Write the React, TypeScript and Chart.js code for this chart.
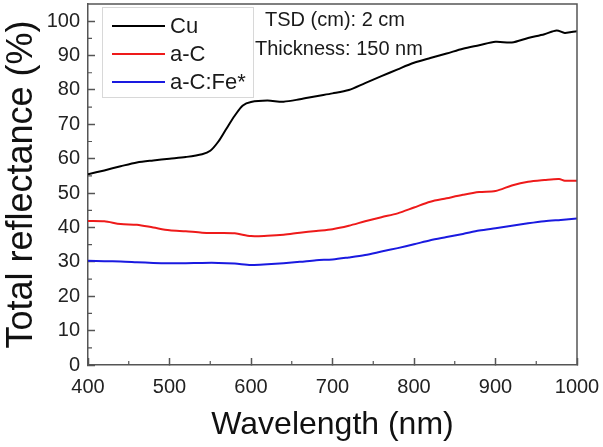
import React, { useEffect, useRef } from "react";
import { Chart, registerables } from "chart.js";

Chart.register(...registerables);

const cuWavelength = [400, 420, 440, 460, 480, 500, 520, 540, 550, 560, 570, 580, 590, 600, 620, 640, 660, 680, 700, 720, 740, 760, 780, 800, 820, 840, 860, 880, 900, 920, 940, 960, 975, 985, 1000];
const cuValues = [55.5, 56.6, 57.8, 58.9, 59.5, 60.0, 60.5, 61.3, 62.3, 65.0, 68.8, 72.5, 75.5, 76.5, 76.9, 76.6, 77.3, 78.2, 79.0, 80.0, 82.0, 84.0, 86.0, 87.9, 89.3, 90.6, 92.0, 93.0, 94.0, 93.8, 95.1, 96.2, 97.3, 96.6, 97.1];

const acWavelength = [400, 420, 440, 460, 480, 500, 520, 540, 560, 580, 600, 620, 640, 660, 680, 700, 720, 740, 760, 780, 800, 820, 840, 860, 880, 900, 920, 940, 960, 978, 985, 1000];
const acValues = [41.9, 41.8, 41.0, 40.8, 40.0, 39.2, 38.9, 38.5, 38.4, 38.3, 37.5, 37.6, 37.9, 38.5, 39.0, 39.5, 40.5, 41.8, 43.0, 44.1, 45.8, 47.5, 48.5, 49.5, 50.3, 50.6, 52.2, 53.3, 53.8, 54.1, 53.6, 53.6];

const acFeWavelength = [400, 420, 440, 460, 480, 500, 520, 540, 560, 580, 600, 620, 640, 660, 680, 700, 720, 740, 760, 780, 800, 820, 840, 860, 880, 900, 920, 940, 960, 980, 1000];
const acFeValues = [30.3, 30.2, 30.1, 29.9, 29.7, 29.6, 29.6, 29.7, 29.7, 29.5, 29.1, 29.3, 29.6, 30.0, 30.5, 30.7, 31.3, 32.0, 33.0, 34.0, 35.1, 36.3, 37.2, 38.1, 39.1, 39.8, 40.5, 41.2, 41.8, 42.2, 42.6];

const seriesLabels = ["Cu", "a-C", "a-C:Fe*"];
const seriesColors = ["#000000", "#ee1a1a", "#1a1ae0"];
const annotationLines = ["TSD (cm): 2 cm", "Thickness: 150 nm"];

const FONT = "'Liberation Sans', Arial, sans-serif";
const AXIS_COLOR = "#555555";

const toPoints = (xs: number[], ys: number[]) => xs.map((x, i) => ({ x, y: ys[i] }));

const framePlugin = {
  id: "frameAndExtras",
  afterDraw(chart: any) {
    const { ctx, chartArea } = chart;
    const { left, right, top, bottom } = chartArea;
    const xs = chart.scales.x;
    const ys = chart.scales.y;
    ctx.save();
    // frame top & right
    ctx.strokeStyle = AXIS_COLOR;
    ctx.lineWidth = 1.5;
    ctx.beginPath();
    ctx.moveTo(left, top);
    ctx.lineTo(right, top);
    ctx.lineTo(right, bottom);
    ctx.stroke();
    // minor ticks
    ctx.lineWidth = 1.2;
    ctx.beginPath();
    for (let v = xs.min + 50; v < xs.max; v += 100) {
      const px = xs.getPixelForValue(v);
      ctx.moveTo(px, bottom);
      ctx.lineTo(px, bottom - 4);
    }
    for (let v = 5; v < ys.max; v += 10) {
      const py = ys.getPixelForValue(v);
      ctx.moveTo(left, py);
      ctx.lineTo(left + 4, py);
    }
    ctx.stroke();

    // legend box
    const lx = left + 14, ly = top + 3, lw = 151, lh = 90;
    ctx.strokeStyle = "#d8d8d8";
    ctx.lineWidth = 1;
    ctx.strokeRect(lx + 0.5, ly + 0.5, lw, lh);
    ctx.font = `22px ${FONT}`;
    ctx.textBaseline = "middle";
    ctx.textAlign = "left";
    chart.data.datasets.forEach((ds: any, i: number) => {
      const yy = ly + 19 + i * 28;
      ctx.strokeStyle = ds.borderColor;
      ctx.lineWidth = 2.2;
      ctx.beginPath();
      ctx.moveTo(lx + 10, yy);
      ctx.lineTo(lx + 63, yy);
      ctx.stroke();
      ctx.fillStyle = "#1a1a1a";
      ctx.fillText(ds.label, lx + 68, yy + 1);
    });

    // annotation
    ctx.font = `20px ${FONT}`;
    ctx.fillStyle = "#1a1a1a";
    ctx.fillText(annotationLines[0], 265, 20);
    ctx.fillText(annotationLines[1], 255, 49);
    ctx.restore();
  },
};

export default function App() {
  const ref = useRef<HTMLCanvasElement | null>(null);
  useEffect(() => {
    if (!ref.current) return;
    const chart = new Chart(ref.current, {
      type: "line",
      data: {
        datasets: [
          { label: seriesLabels[0], data: toPoints(cuWavelength, cuValues), borderColor: seriesColors[0] },
          { label: seriesLabels[1], data: toPoints(acWavelength, acValues), borderColor: seriesColors[1] },
          { label: seriesLabels[2], data: toPoints(acFeWavelength, acFeValues), borderColor: seriesColors[2] },
        ].map((d) => ({ ...d, borderWidth: 2, pointRadius: 0, tension: 0.3, fill: false })),
      },
      options: {
        responsive: false,
        animation: false,
        layout: { padding: { left: 0, right: 26, top: 4, bottom: 0 } },
        plugins: { legend: { display: false }, tooltip: { enabled: false } },
        scales: {
          x: {
            type: "linear",
            min: 400,
            max: 1000,
            afterFit: (s: any) => { s.height = 82; s.paddingLeft = 0; s.paddingRight = 0; },
            ticks: { stepSize: 100, color: "#222222", font: { family: FONT, size: 20 }, padding: 17, maxRotation: 0, callback: (v: any) => String(v) },
            grid: { drawOnChartArea: false, tickLength: -7, color: AXIS_COLOR, tickWidth: 1.5 },
            border: { color: AXIS_COLOR, width: 1.5 },
            title: { display: true, text: "Wavelength (nm)", color: "#111111", font: { family: FONT, size: 32 }, padding: { top: 0, bottom: 3 } },
          },
          y: {
            min: 0,
            max: 105,
            afterFit: (s: any) => { s.width = 88; s.paddingTop = 0; s.paddingBottom = 0; },
            afterBuildTicks: (s: any) => {
              const t: any[] = [];
              for (let v = 0; v <= 100; v += 10) t.push({ value: v });
              s.ticks = t;
            },
            ticks: { color: "#222222", font: { family: FONT, size: 20 }, padding: 15, callback: (v: any) => String(v) },
            grid: { drawOnChartArea: false, tickLength: -7, color: AXIS_COLOR, tickWidth: 1.5 },
            border: { color: AXIS_COLOR, width: 1.5 },
            title: { display: true, text: "Total reflectance (%)", color: "#111111", font: { family: FONT, size: 36 }, padding: { top: 0, bottom: 0 } },
          },
        },
      },
      plugins: [framePlugin],
    });
    return () => chart.destroy();
  }, []);
  return (
    <div style={{ position: "fixed", left: 0, top: 0, width: 603, height: 447, background: "#fff" }}>
      <canvas ref={ref} width={603} height={447} />
    </div>
  );
}
